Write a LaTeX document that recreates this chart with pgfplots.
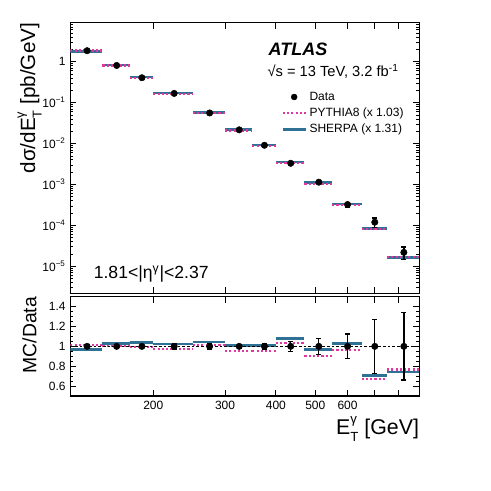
\documentclass[border=0pt]{standalone}
\usepackage{fontspec}
\setmainfont{Liberation Sans}
\usepackage{pgfplots}
\pgfplotsset{compat=1.18}
\usepackage{pgfplotstable}

\definecolor{sherpa}{RGB}{47,112,149}
\definecolor{pythia}{RGB}{224,56,157}

% E_T^gamma with stacked scripts
\newcommand\ETg{E\rlap{\raisebox{0.52em}{\scalebox{0.62}{γ}}}\raisebox{-0.32em}{\scalebox{0.62}{T}}}

% data: bin centre, value, relative error, ratio
\pgfplotstableread{
x     d       e      r
137.5 1.86    0.02   1
162.5 0.81    0.02   1
187.5 0.406   0.02   1
225   0.168   0.025  1
275   0.056   0.025  1
325   0.0217  0.02   1
375   0.0091  0.03   1
435   0.0033  0.05   1
510   0.00114 0.08   1
600   3.24e-4 0.125  1
700   1.2e-4  0.27   1
825   2.2e-5  0.34   1
}\data

% MC histograms: bin edges, SHERPA, PYTHIA8 and their MC/Data
\pgfplotstableread{
x    s        p        rs     rp
125  1.804    1.879    0.970  1.010
150  1.804    1.879    0.970  1.010
150  nan      nan      nan    nan
150  0.834    0.810    1.030  1.000
175  0.834    0.810    1.030  1.000
175  nan      nan      nan    nan
175  0.421    0.402    1.037  0.990
200  0.421    0.402    1.037  0.990
200  nan      nan      nan    nan
200  0.172    0.164    1.023  0.977
250  0.172    0.164    1.023  0.977
250  nan      nan      nan    nan
250  0.0584   0.057    1.043  1.017
300  0.0584   0.057    1.043  1.017
300  nan      nan      nan    nan
300  0.0219   0.0208   1.010  0.957
350  0.0219   0.0208   1.010  0.957
350  nan      nan      nan    nan
350  0.00919  0.00867  1.010  0.953
400  0.00919  0.00867  1.010  0.953
400  nan      nan      nan    nan
400  0.00355  0.00341  1.077  1.033
470  0.00355  0.00341  1.077  1.033
470  nan      nan      nan    nan
470  0.00110  0.00103  0.967  0.907
550  0.00110  0.00103  0.967  0.907
550  nan      nan      nan    nan
550  3.33e-4  3.13e-4  1.027  0.967
650  3.33e-4  3.13e-4  1.027  0.967
650  nan      nan      nan    nan
650  8.48e-5  8.04e-5  0.707  0.670
750  8.48e-5  8.04e-5  0.707  0.670
750  nan      nan      nan    nan
750  1.63e-5  1.69e-5  0.743  0.767
900  1.63e-5  1.69e-5  0.743  0.767
}\mc

\pgfplotsset{
  ms/.style={sherpa, line width=2pt, mark=none, forget plot, unbounded coords=jump},
  mp/.style={pythia, line width=1.6pt, dash pattern=on 1.6pt off 1.6pt, mark=none,
    forget plot, unbounded coords=jump},
  dat/.style={only marks, mark=*, mark size=2.4pt, black, forget plot,
    error bars/y dir=both, error bars/y explicit relative,
    error bars/error bar style={line width=1pt, black},
    error bars/error mark options={rotate=90, mark size=1.8pt, line width=1pt, black}},
}

\begin{document}
\begin{tikzpicture}
\useasboundingbox (-52.7pt,-148.3pt) rectangle (315.5pt,220pt);

\begin{axis}[
  scale only axis, width=261.75pt, height=203pt,
  at={(0,0)}, anchor=south west,
  xmode=log, xmin=125, xmax=900,
  xtick={200,300,400,500,600,700,800}, minor xtick={},
  xticklabels={},
  ymode=log, ymin=2.2e-6, ymax=9,
  major tick length=4.5pt, minor tick length=2.2pt,
  tick style={black, line width=0.6pt},
  axis line style={line width=0.8pt},
  tick label style={font=\fontsize{9}{10}\selectfont},
  yticklabel={\pgfmathparse{int(round(\tick/ln(10)))}\ifnum\pgfmathresult=0 1\else 10\textsuperscript{−\the\numexpr-\pgfmathresult\relax}\fi},
  ylabel={dσ/d\ETg\ [pb/GeV]},
  ylabel style={at={([xshift=-21.2pt]rel axis cs:0,1)}, anchor=south east, inner sep=0pt,
    font=\fontsize{15.5}{17}\selectfont},
  legend style={draw=none, fill=none, at={(rel axis cs:0.975,0.765)}, anchor=north east,
    font=\fontsize{9}{10}\selectfont, row sep=0.3pt},
  legend cell align=left,
]
\addlegendimage{only marks, mark=*, mark size=2.2pt, black}
\addlegendentry{Data}
\addlegendimage{pythia, line width=1.6pt, dash pattern=on 1.6pt off 1.6pt}
\addlegendentry{PYTHIA8 (x 1.03)}
\addlegendimage{sherpa, line width=2pt}
\addlegendentry{SHERPA (x 1.31)}

\addplot[ms] table[x=x, y=s] {\mc};
\addplot[mp] table[x=x, y=p] {\mc};
\addplot[dat] table[x=x, y=d, y error=e] {\data};

\node[anchor=base west, font=\fontsize{13.5}{15}\selectfont\bfseries\itshape]
  at (rel axis cs:0.555,0.877) {ATLAS};
\node[anchor=base west, font=\fontsize{11}{13}\selectfont]
  at (rel axis cs:0.552,0.800) {√s = 13 TeV, 3.2 fb\textsuperscript{-1}};
\node[anchor=base west, font=\fontsize{13.2}{15}\selectfont]
  at (rel axis cs:0.054,0.055) {1.81<|η\textsuperscript{γ}|<2.37};
\end{axis}

\begin{axis}[
  scale only axis, width=261.75pt, height=74.5pt,
  at={(0,-2.55pt)}, anchor=north west,
  xmode=log, xmin=125, xmax=900,
  xtick={200,300,400,500,600,700,800}, minor xtick={},
  xticklabels={200,300,400,500,600,,},
  ymin=0.5, ymax=1.5,
  ytick={0.6,0.8,1,1.2,1.4}, minor y tick num=3,
  major tick length=4.5pt, minor tick length=2.2pt,
  tick style={black, line width=0.6pt},
  axis line style={line width=0.8pt},
  tick label style={font=\fontsize{9}{10}\selectfont},
  /pgf/number format/assume math mode=true,
  ylabel={MC/Data},
  ylabel style={at={([xshift=-25pt]rel axis cs:0,1)}, anchor=south east, inner sep=0pt,
    font=\fontsize{14.5}{16}\selectfont},
  xlabel={\ETg\ [GeV]},
  xlabel style={at={([yshift=-15pt]rel axis cs:1,0)}, anchor=north east, inner sep=0pt,
    font=\fontsize{16}{18}\selectfont},
]
\addplot[ms] table[x=x, y=rs] {\mc};
\addplot[mp] table[x=x, y=rp] {\mc};
\addplot[black, line width=0.8pt, dash pattern=on 2pt off 1.5pt, forget plot]
  coordinates {(125,1) (900,1)};
\addplot[dat] table[x=x, y=r, y error=e] {\data};
\end{axis}
\end{tikzpicture}
\end{document}
